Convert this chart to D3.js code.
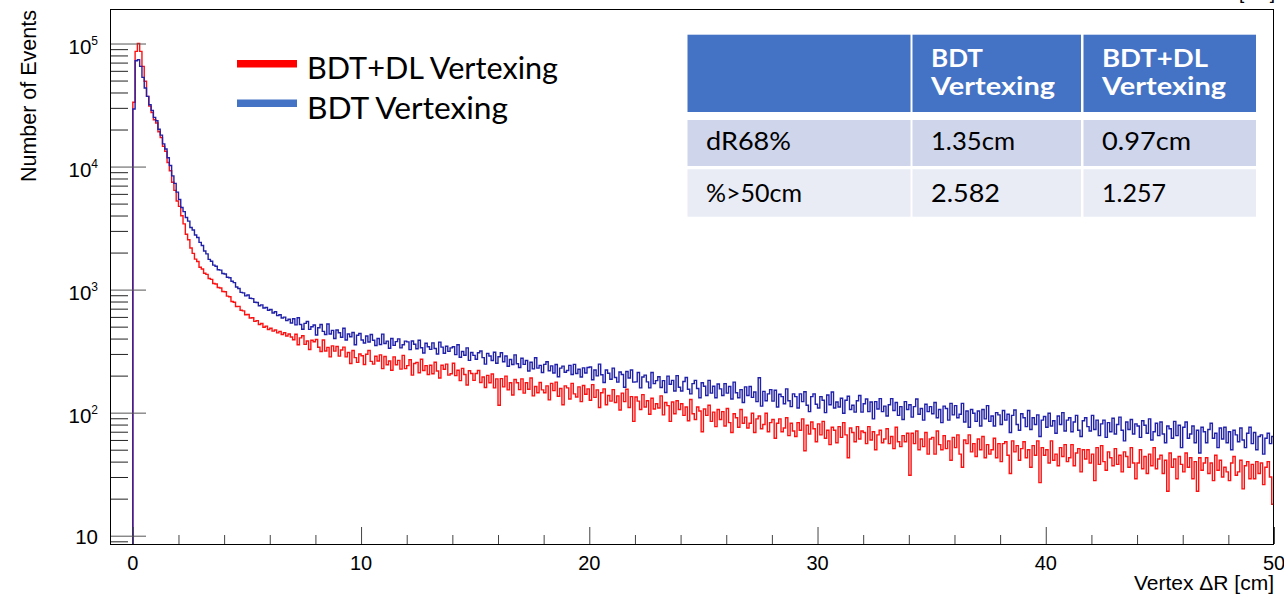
<!DOCTYPE html>
<html>
<head>
<meta charset="utf-8">
<script src="https://cdn.jsdelivr.net/npm/d3@7"></script>
<style>
  body { margin: 0; background: #fff; }
  svg { display: block; }
</style>
</head>
<body>
<svg id="chart" width="1284" height="596"></svg>
<script>
// ---- data: vertex dR histograms, 0.1 cm bins from 0 to 50 cm ----
const binStart = 0;
const binWidth = 0.1;

const bdtVertexing = [
  29400, 72500, 73900, 65200, 53100, 43500, 37200, 31800, 28600, 25100,
  23600, 20100, 18000, 15300, 13900, 11800, 10200, 8400, 7300, 6200,
  5400, 4650, 4300, 3850, 3600, 3200, 3050, 2780, 2650, 2420,
  2280, 2060, 1950, 1760, 1700, 1580, 1550, 1450, 1440, 1350,
  1340, 1260, 1250, 1170, 1140, 1050, 1020, 950, 940, 890,
  905, 850, 845, 790, 785, 740, 752, 708, 716, 680,
  690, 645, 660, 615, 625, 588, 598, 560, 575, 535,
  580, 517, 591, 521, 476, 532, 550, 475, 499, 516,
  428, 490, 521, 458, 432, 525, 436, 466, 400, 469,
  446, 410, 485, 389, 436, 414, 448, 356, 426, 440,
  389, 368, 420, 375, 432, 388, 351, 400, 358, 435,
  365, 381, 334, 400, 352, 378, 398, 336, 356, 381,
  376, 325, 382, 360, 331, 388, 337, 305, 366, 343,
  327, 369, 332, 300, 374, 341, 304, 346, 315, 336,
  343, 296, 356, 282, 314, 293, 336, 266, 308, 292,
  272, 307, 317, 280, 248, 303, 289, 265, 310, 252,
  285, 307, 259, 289, 238, 270, 246, 295, 250, 233,
  277, 247, 265, 218, 257, 227, 279, 230, 242, 212,
  247, 259, 219, 240, 210, 246, 196, 230, 239, 213,
  220, 242, 204, 247, 208, 225, 195, 231, 210, 233,
  235, 185, 222, 199, 248, 203, 176, 222, 209, 187,
  230, 193, 177, 214, 204, 161, 216, 191, 222, 177,
  178, 212, 159, 195, 202, 178, 159, 212, 172, 182,
  196, 160, 182, 146, 198, 170, 183, 150, 200, 161,
  150, 179, 193, 155, 142, 172, 183, 157, 132, 175,
  164, 138, 183, 144, 164, 132, 171, 156, 138, 172,
  144, 163, 129, 177, 145, 132, 154, 121, 162, 138,
  163, 133, 147, 123, 192, 113, 149, 125, 142, 154,
  124, 152, 111, 141, 135, 118, 156, 125, 112, 142,
  135, 109, 142, 123, 148, 115, 102, 135, 142, 117,
  109, 135, 126, 100, 139, 116, 147, 109, 122, 111,
  131, 99, 126, 136, 106, 115, 101, 125, 138, 101,
  118, 129, 102, 122, 89, 123, 107, 130, 102, 113,
  94, 116, 130, 104, 121, 95, 112, 88, 123, 106,
  116, 92, 112, 129, 97, 108, 87, 117, 102, 112,
  98, 121, 91, 106, 83, 113, 108, 87, 119, 96,
  114, 91, 97, 119, 84, 103, 76, 106, 99, 85,
  103, 78, 106, 89, 114, 85, 94, 78, 100, 96,
  80, 104, 87, 97, 69, 95, 105, 80, 72, 98,
  91, 77, 104, 73, 91, 80, 96, 64, 87, 93,
  76, 99, 78, 86, 68, 94, 80, 100, 71, 87,
  91, 70, 84, 95, 72, 64, 86, 91, 77, 71,
  95, 73, 87, 65, 81, 87, 63, 83, 70, 90,
  67, 80, 92, 72, 59, 84, 73, 88, 67, 81,
  78, 63, 86, 79, 68, 89, 60, 70, 82, 65,
  84, 67, 57, 78, 74, 62, 85, 65, 79, 52,
  76, 84, 62, 67, 78, 57, 72, 47, 76, 70,
  57, 73, 82, 62, 68, 52, 75, 61, 76, 57,
  70, 50, 72, 66, 58, 75, 60, 52, 68, 76,
  56, 69, 50, 64, 66, 46, 62, 68, 56, 64
];

const bdtDlVertexing = [
  33300, 86400, 100000, 86400, 65200, 49300, 37200, 31000, 27500, 24000,
  22600, 19200, 17200, 14600, 13300, 10800, 9250, 7450, 6400, 5250,
  4750, 3980, 3420, 2820, 2540, 2180, 1970, 1770, 1690, 1520,
  1470, 1360, 1330, 1230, 1210, 1120, 1110, 1040, 1030, 965,
  960, 885, 875, 800, 790, 728, 730, 680, 672, 625,
  628, 588, 590, 552, 560, 520, 530, 495, 505, 474,
  485, 460, 470, 445, 458, 432, 446, 420, 436, 412,
  391, 434, 356, 405, 422, 359, 382, 326, 388, 377,
  393, 340, 314, 389, 317, 339, 284, 349, 316, 345,
  288, 323, 341, 284, 308, 251, 320, 280, 256, 300,
  290, 246, 298, 320, 261, 248, 287, 263, 295, 228,
  286, 245, 263, 221, 284, 245, 266, 226, 292, 228,
  241, 269, 202, 251, 256, 211, 272, 220, 241, 204,
  243, 207, 257, 218, 191, 243, 225, 248, 202, 207,
  252, 200, 221, 182, 229, 204, 168, 219, 208, 183,
  208, 220, 176, 195, 160, 201, 175, 206, 159, 188,
  115, 189, 162, 198, 153, 175, 139, 186, 175, 154,
  188, 144, 175, 155, 191, 137, 163, 145, 176, 153,
  145, 165, 127, 173, 151, 177, 136, 157, 116, 165,
  159, 129, 173, 142, 134, 162, 123, 166, 141, 156,
  126, 169, 133, 153, 110, 145, 156, 116, 138, 124,
  154, 121, 137, 105, 144, 123, 155, 110, 135, 85,
  134, 124, 106, 140, 111, 125, 97, 131, 107, 118,
  109, 137, 96, 121, 114, 85, 122, 98, 125, 106,
  118, 95, 111, 86, 128, 98, 88, 111, 103, 70,
  107, 95, 115, 85, 101, 77, 106, 88, 102, 78,
  108, 83, 69, 98, 91, 76, 106, 82, 92, 75,
  82, 99, 69, 89, 94, 74, 80, 99, 70, 83,
  88, 62, 82, 89, 70, 75, 91, 65, 82, 71,
  64, 83, 72, 89, 49, 79, 67, 84, 74, 58,
  81, 66, 85, 62, 72, 55, 76, 72, 57, 77,
  63, 83, 66, 43, 75, 69, 58, 77, 61, 71,
  69, 56, 77, 60, 70, 50, 66, 72, 57, 61,
  74, 56, 64, 51, 76, 58, 53, 65, 58, 68,
  31, 68, 56, 71, 50, 61, 53, 69, 46, 61,
  63, 46, 71, 55, 50, 65, 51, 59, 41, 63,
  52, 66, 46, 36, 60, 56, 66, 48, 56, 44,
  61, 50, 64, 43, 55, 46, 50, 62, 43, 56,
  40, 56, 58, 45, 32, 59, 48, 54, 41, 51,
  58, 43, 50, 36, 54, 45, 59, 27, 52, 45,
  50, 39, 59, 41, 46, 37, 52, 44, 55, 40,
  43, 55, 37, 47, 51, 33, 50, 42, 50, 39,
  46, 28, 52, 38, 54, 40, 34, 48, 43, 37,
  51, 38, 45, 33, 48, 44, 36, 52, 39, 29,
  39, 50, 35, 44, 32, 46, 37, 52, 35, 42,
  45, 32, 41, 23, 47, 36, 42, 29, 44, 38,
  33, 47, 36, 43, 29, 40, 23, 43, 34, 39,
  43, 32, 39, 28, 45, 34, 41, 30, 36, 33,
  28, 39, 44, 31, 33, 41, 24, 37, 40, 29,
  38, 29, 40, 32, 39, 26, 36, 40, 30, 18
];

// axis ticks and labels
const xMajorTicks = [0, 10, 20, 30, 40, 50];
const xMinorTicks = [2, 4, 6, 8, 12, 14, 16, 18, 22, 24, 26, 28, 32, 34, 36, 38, 42, 44, 46, 48];
const yMajorTicks = [10, 100, 1000, 10000, 100000];
const yTickBase = ["10", "10", "10", "10", "10"];
const yTickExponent = ["", "2", "3", "4", "5"];
const yMinorTicks = [9,
  20, 30, 40, 50, 60, 70, 80, 90,
  200, 300, 400, 500, 600, 700, 800, 900,
  2000, 3000, 4000, 5000, 6000, 7000, 8000, 9000,
  20000, 30000, 40000, 50000, 60000, 70000, 80000, 90000];
const xTitle = "Vertex \u0394R [cm]";
const yTitle = "Number of Events";

// legend entries and summary table
const legendLabels = ["BDT+DL Vertexing", "BDT Vertexing"];
const legendColors = ["#ff0000", "#4472c4"];
const tableHeader = [[""], ["BDT", "Vertexing"], ["BDT+DL", "Vertexing"]];
const tableRowLabels = ["dR68%", "%>50cm"];
const tableBdt = ["1.35cm", "2.582"];
const tableBdtDl = ["0.97cm", "1.257"];

// ---- layout ----
const W = 1284, H = 596;
const frame = { left: 110, right: 1274, top: 9, bottom: 544 };
const axisFont = "'Liberation Sans', Arial, Helvetica, sans-serif";
const textFont = "Lato, 'Open Sans', sans-serif";

const svg = d3.select("#chart");
svg.append("rect").attr("width", W).attr("height", H).attr("fill", "#fff");

const x = d3.scaleLinear().domain([-1, 50]).range([frame.left, frame.right]);
const y = d3.scaleLog().domain([8.56, 190800]).range([frame.bottom, frame.top]);

svg.append("defs").append("clipPath").attr("id", "plotClip")
  .append("rect")
  .attr("x", frame.left).attr("y", frame.top)
  .attr("width", frame.right - frame.left).attr("height", frame.bottom - frame.top);

// ---- histograms ----
function stepPoints(values) {
  const yMin = y.domain()[0];
  const end = binStart + values.length * binWidth;
  const pts = [[binStart, yMin]];
  values.forEach((v, i) => pts.push([binStart + i * binWidth, v]));
  pts.push([end, values[values.length - 1]]);
  pts.push([end, yMin]);
  return pts;
}
const stepLine = d3.line()
  .x(d => x(d[0]))
  .y(d => y(d[1]))
  .curve(d3.curveStepAfter);

const hists = svg.append("g").attr("clip-path", "url(#plotClip)");
hists.append("path")
  .attr("d", stepLine(stepPoints(bdtDlVertexing)))
  .attr("fill", "none").attr("stroke", "#ff1010").attr("stroke-width", 1.4);
hists.append("path")
  .attr("d", stepLine(stepPoints(bdtVertexing)))
  .attr("fill", "none").attr("stroke", "#2020a8").attr("stroke-width", 1.4);

// ---- axes (ticks pointing into the frame) ----
function styleTicks(sel, color) {
  sel.select(".domain").remove();
  sel.selectAll(".tick line").attr("stroke", color).attr("stroke-width", 1);
  sel.selectAll(".tick text").remove();
}
svg.append("g").attr("transform", `translate(${frame.left},0)`)
  .call(d3.axisRight(y).tickValues(yMajorTicks).tickSize(36).tickFormat(() => ""))
  .call(s => styleTicks(s, "#555"));
svg.append("g").attr("transform", `translate(${frame.left},0)`)
  .call(d3.axisRight(y).tickValues(yMinorTicks).tickSize(18).tickFormat(() => ""))
  .call(s => styleTicks(s, "#222"));
svg.append("g").attr("transform", `translate(0,${frame.bottom})`)
  .call(d3.axisTop(x).tickValues(xMajorTicks).tickSize(17).tickFormat(() => ""))
  .call(s => styleTicks(s, "#444"));
svg.append("g").attr("transform", `translate(0,${frame.bottom})`)
  .call(d3.axisTop(x).tickValues(xMinorTicks).tickSize(9).tickFormat(() => ""))
  .call(s => styleTicks(s, "#444"));

// frame
svg.append("rect")
  .attr("x", frame.left + 0.5).attr("y", frame.top + 0.5)
  .attr("width", frame.right - frame.left - 1).attr("height", frame.bottom - frame.top)
  .attr("fill", "none").attr("stroke", "#000").attr("stroke-width", 1);

// y tick labels (10, 10^2 ...)
const yLabels = svg.append("g").attr("font-family", axisFont).attr("fill", "#000");
yMajorTicks.forEach((v, i) => {
  const t = yLabels.append("text")
    .attr("x", 98)
    .attr("y", y(v) + (yTickExponent[i] ? 10.5 : 8))
    .attr("text-anchor", "end")
    .attr("font-size", 20.5)
    .text(yTickBase[i]);
  if (yTickExponent[i]) {
    t.append("tspan").attr("dy", -9).attr("font-size", 12).text(yTickExponent[i]);
  }
});

// x tick labels
svg.append("g").attr("font-family", axisFont).attr("font-size", 20)
  .selectAll("text").data(xMajorTicks).join("text")
  .attr("x", d => x(d)).attr("y", 570)
  .attr("text-anchor", "middle")
  .text(d => d);

// axis titles
svg.append("text")
  .attr("x", frame.right).attr("y", 590)
  .attr("text-anchor", "end")
  .attr("font-family", axisFont).attr("font-size", 21)
  .text(xTitle);
svg.append("text")
  .attr("transform", "translate(35.5,10) rotate(-90)")
  .attr("text-anchor", "end")
  .attr("font-family", axisFont).attr("font-size", 21.5)
  .text(yTitle);
// unit label of the frame above, mostly outside the page
svg.append("text")
  .attr("x", 1275).attr("y", -1)
  .attr("text-anchor", "end")
  .attr("font-family", axisFont).attr("font-size", 19)
  .text("[cm]");

// ---- legend ----
const legendRowY = [63.7, 103.2];
const legendTextLen = [251, 201];
legendLabels.forEach((name, i) => {
  svg.append("line")
    .attr("x1", 237).attr("x2", 297)
    .attr("y1", legendRowY[i]).attr("y2", legendRowY[i])
    .attr("stroke", legendColors[i]).attr("stroke-width", 7.5);
  svg.append("text")
    .attr("x", 307).attr("y", legendRowY[i] + 15.5)
    .attr("font-family", textFont).attr("font-size", 30)
    .attr("textLength", legendTextLen[i]).attr("lengthAdjust", "spacingAndGlyphs")
    .attr("fill", "#000")
    .text(name);
});

// ---- summary table ----
const colX = [[687.5, 910.5], [912.5, 1081], [1083.5, 1256]];
const rowY = [[34.7, 112], [120, 166], [169.3, 216.7]];
const rowFill = ["#4472c4", "#cfd5ea", "#e9ebf5"];
const textPad = 19;
const table = svg.append("g").attr("font-family", textFont);
rowY.forEach((r, ri) => {
  colX.forEach(c => {
    table.append("rect")
      .attr("x", c[0]).attr("y", r[0])
      .attr("width", c[1] - c[0]).attr("height", r[1] - r[0])
      .attr("fill", rowFill[ri]);
  });
});
const headerLen = { "BDT": 52, "BDT+DL": 106, "Vertexing": 124 };
tableHeader.forEach((lines, ci) => {
  lines.forEach((s, li) => {
    if (!s) return;
    table.append("text")
      .attr("x", colX[ci][0] + textPad - 0.5).attr("y", 67.3 + li * 27.3)
      .attr("font-size", 25).attr("font-weight", "bold").attr("fill", "#fff")
      .attr("textLength", headerLen[s]).attr("lengthAdjust", "spacingAndGlyphs")
      .text(s);
  });
});
const bodyBaseline = [150, 201.5];
const bodyLen = {
  "dR68%": 85, "%>50cm": 96, "1.35cm": 84, "0.97cm": 89, "2.582": 69, "1.257": 64
};
[tableRowLabels, tableBdt, tableBdtDl].forEach((col, ci) => {
  col.forEach((s, ri) => {
    table.append("text")
      .attr("x", colX[ci][0] + textPad - 0.5).attr("y", bodyBaseline[ri])
      .attr("font-size", 25).attr("fill", "#000")
      .attr("textLength", bodyLen[s]).attr("lengthAdjust", "spacingAndGlyphs")
      .text(s);
  });
});
</script>
</body>
</html>
